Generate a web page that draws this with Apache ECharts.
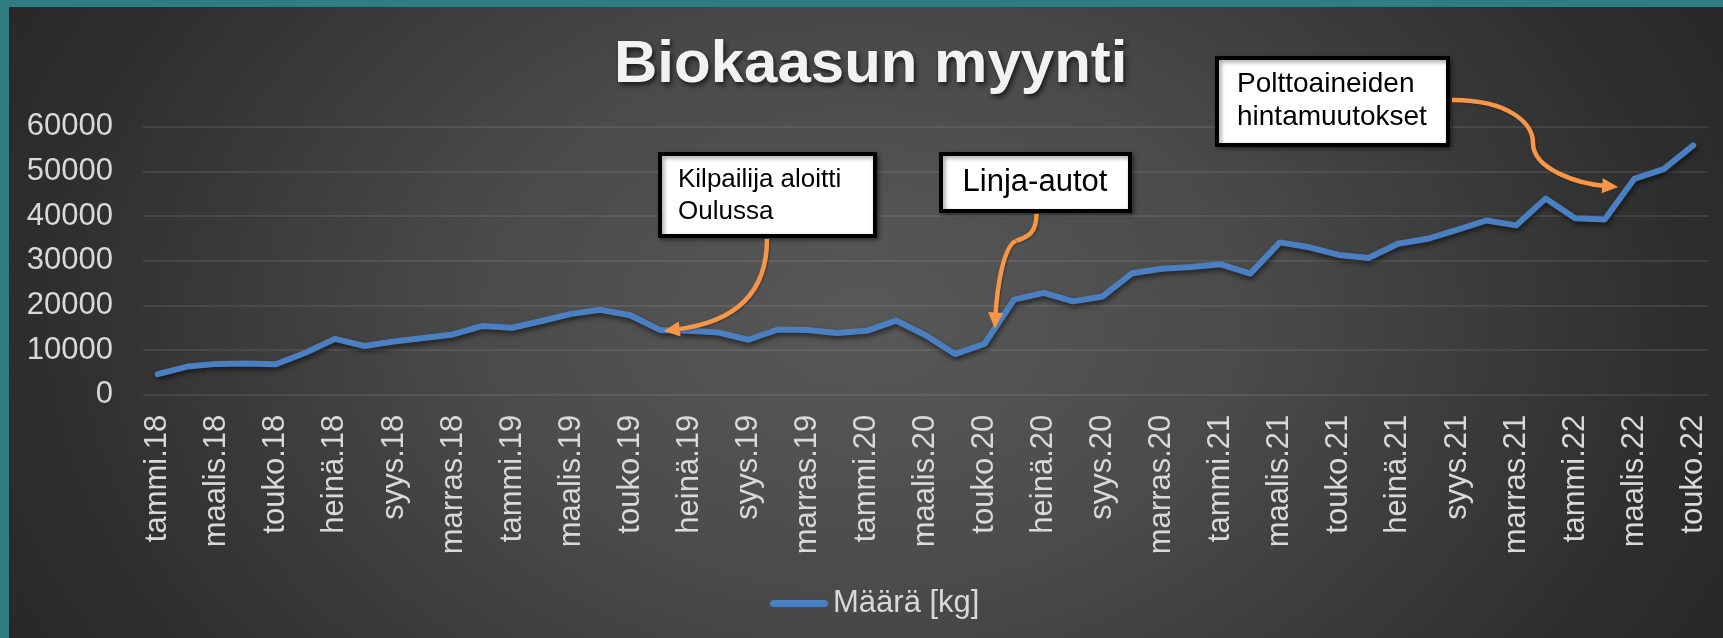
<!DOCTYPE html>
<html>
<head>
<meta charset="utf-8">
<script src="https://cdn.jsdelivr.net/npm/echarts@6/dist/echarts.min.js"></script>
<style>
  html, body { margin: 0; padding: 0; }
  body {
    width: 1723px; height: 638px; overflow: hidden; position: relative;
    background: radial-gradient(ellipse 62% 120% at 50% 50%, #585858 0%, #4b4b4b 35%, #2f2f2f 75%, #232323 100%);
  }
  #stripL { position: absolute; left: 0; top: 0; width: 9px; height: 638px; background: #2f7d83; }
  #stripT { position: absolute; left: 0; top: 0; width: 1723px; height: 7px; background: #2f7d83; }
  #chart { position: absolute; left: 0; top: 0; width: 1723px; height: 638px; }
</style>
</head>
<body>
<div id="stripL"></div>
<div id="stripT"></div>
<div id="chart"></div>
<script>
// ---- data ----
const categories = [
  'tammi.18','helmi.18','maalis.18','huhti.18','touko.18','kesä.18','heinä.18','elo.18','syys.18','loka.18','marras.18','joulu.18',
  'tammi.19','helmi.19','maalis.19','huhti.19','touko.19','kesä.19','heinä.19','elo.19','syys.19','loka.19','marras.19','joulu.19',
  'tammi.20','helmi.20','maalis.20','huhti.20','touko.20','kesä.20','heinä.20','elo.20','syys.20','loka.20','marras.20','joulu.20',
  'tammi.21','helmi.21','maalis.21','huhti.21','touko.21','kesä.21','heinä.21','elo.21','syys.21','loka.21','marras.21','joulu.21',
  'tammi.22','helmi.22','maalis.22','huhti.22','touko.22'
];
const maara = [
  4600, 6300, 6900, 7000, 6800, 9400, 12500, 10900, 11900, 12700, 13500, 15400,
  15000, 16500, 18100, 19000, 17800, 14500, 14300, 13900, 12300, 14600, 14500, 13800,
  14300, 16600, 13300, 9100, 11400, 21300, 22800, 20900, 22000, 27200, 28200, 28600,
  29200, 27100, 34100, 33000, 31300, 30600, 33800, 34900, 36900, 39000, 37900, 43900,
  39500, 39200, 48300, 50500, 55800
];
const yTicks = { min: 0, max: 60000, interval: 10000 };
const seriesName = 'Määrä [kg]';
const titleText = 'Biokaasun myynti';
const notes = [
  { text: 'Kilpailija aloitti\nOulussa', idx: 17 },
  { text: 'Linja-autot', idx: 28 },
  { text: 'Polttoaineiden\nhintamuutokset', idx: 50 }
];

const FONT = '"Liberation Sans", Arial, sans-serif';
const chart = echarts.init(document.getElementById('chart'), null, { renderer: 'canvas' });

chart.setOption({
  animation: false,
  backgroundColor: 'transparent',
  title: {
    text: titleText,
    left: 614, top: 35, padding: 0,
    textStyle: {
      fontFamily: FONT, fontSize: 60, fontWeight: 'bold', color: '#f2f2f2',
      textShadowColor: 'rgba(0,0,0,0.65)', textShadowBlur: 5, textShadowOffsetX: 2, textShadowOffsetY: 3
    }
  },
  legend: {
    data: [seriesName],
    left: 770, top: 588, padding: 0,
    itemWidth: 58, itemHeight: 7,
    icon: 'path://M3.5,0 L54.5,0 A3.5,3.5 0 0 1 54.5,7 L3.5,7 A3.5,3.5 0 0 1 3.5,0 Z',
    textStyle: { fontFamily: FONT, fontSize: 31, color: '#d9d9d9' }
  },
  grid: {
    left: 143, right: 15, top: 126.7, bottom: 243.3,
    containLabel: false, outerBoundsMode: 'none'
  },
  xAxis: {
    type: 'category',
    data: categories,
    boundaryGap: true,
    axisLine: { show: false },
    axisTick: { show: false },
    axisLabel: {
      interval: 1, rotate: 90, margin: 20,
      fontFamily: FONT, fontSize: 31, color: '#d9d9d9'
    },
    splitLine: { show: false }
  },
  yAxis: {
    type: 'value',
    min: yTicks.min, max: yTicks.max, interval: yTicks.interval,
    axisLine: { show: false },
    axisTick: { show: false },
    axisLabel: {
      margin: 30, fontFamily: FONT, fontSize: 31, color: '#d9d9d9',
      formatter: function (v) { return String(v); }
    },
    splitLine: { lineStyle: { color: 'rgba(217,217,217,0.14)', width: 1.5 } }
  },
  series: [{
    name: seriesName,
    type: 'line',
    data: maara,
    symbol: 'none',
    color: '#4a7fc1',
    lineStyle: {
      width: 6, color: '#4a7fc1', cap: 'round', join: 'round',
      shadowColor: 'rgba(0,0,0,0.55)', shadowBlur: 5, shadowOffsetX: 1, shadowOffsetY: 3
    },
    z: 3
  }]
});

// ---- annotations (boxes + arrows), arrow tips computed from the data ----
function px(i) { return chart.convertToPixel({ seriesIndex: 0 }, [i, maara[i]]); }
const ORANGE = '#f79646';
const els = [];

function box(x, y, w, h, text, tx, ty, fontSize, lineHeight, align) {
  els.push({
    type: 'rect', z: 100,
    shape: { x: x + 2, y: y + 2, width: w - 4, height: h - 4 },
    style: { fill: '#ffffff', stroke: '#000000', lineWidth: 4,
      shadowBlur: 4, shadowColor: 'rgba(0,0,0,0.4)', shadowOffsetX: 2, shadowOffsetY: 2 }
  });
  els.push({
    type: 'text', z: 101,
    style: { text: text, x: tx, y: ty, fill: '#000000', font: fontSize + 'px ' + FONT,
      lineHeight: lineHeight, align: align, verticalAlign: 'middle',
      textAlign: align, textVerticalAlign: 'middle' }
  });
}

function arrow(segs, tip) {
  const last = segs[segs.length - 1];
  let dx = tip[0] - last[4], dy = tip[1] - last[5];
  const L = Math.hypot(dx, dy); dx /= L; dy /= L;
  const headLen = 16, headHalf = 7.5;
  const base = [tip[0] - dx * headLen, tip[1] - dy * headLen];
  const end = [tip[0] - dx * (headLen - 3), tip[1] - dy * (headLen - 3)];
  segs.forEach(function (s, k) {
    let x2, y2;
    if (k < segs.length - 1) { x2 = segs[k + 1][0]; y2 = segs[k + 1][1]; }
    else { x2 = end[0]; y2 = end[1]; }
    els.push({
      type: 'bezierCurve', z: 102,
      shape: { x1: s[0], y1: s[1], cpx1: s[2], cpy1: s[3], cpx2: s[4], cpy2: s[5], x2: x2, y2: y2 },
      style: { stroke: ORANGE, lineWidth: 4.5, fill: null, lineCap: 'butt',
        shadowBlur: 2, shadowColor: 'rgba(0,0,0,0.3)', shadowOffsetX: 1, shadowOffsetY: 1 }
    });
  });
  els.push({
    type: 'polygon', z: 103,
    shape: { points: [
      tip,
      [base[0] - dy * headHalf, base[1] + dx * headHalf],
      [base[0] + dy * headHalf, base[1] - dx * headHalf]
    ] },
    style: { fill: ORANGE }
  });
}

// Box 1
box(658, 152, 219, 86, notes[0].text, 678, 196, 26, 31.5, 'left');
const p17 = px(notes[0].idx);
arrow([[767, 239, 767, 292, 737, 322]], [p17[0] + 4, p17[1] + 1]);

// Box 2
box(939, 152, 193, 61, notes[1].text, 1035, 182.5, 31, 36, 'center');
const p28 = px(notes[1].idx), p29 = px(notes[1].idx + 1);
const t2 = 0.345;
const tip2 = [p28[0] + (p29[0] - p28[0]) * t2, p28[1] + (p29[1] - p28[1]) * t2];
arrow([[1036.5, 214, 1036.5, 233, 1028, 237], [1016, 241, 1003, 246, 997, 290]], tip2);

// Box 3
box(1215, 56, 235, 91, notes[2].text, 1237, 101, 28, 32.5, 'left');
const p50 = px(notes[2].idx);
arrow([[1452, 100, 1512, 100, 1533, 125], [1533, 143, 1533, 170, 1580, 184]], [p50[0] - 16, p50[1] + 8]);

chart.setOption({ graphic: els });
</script>
</body>
</html>
